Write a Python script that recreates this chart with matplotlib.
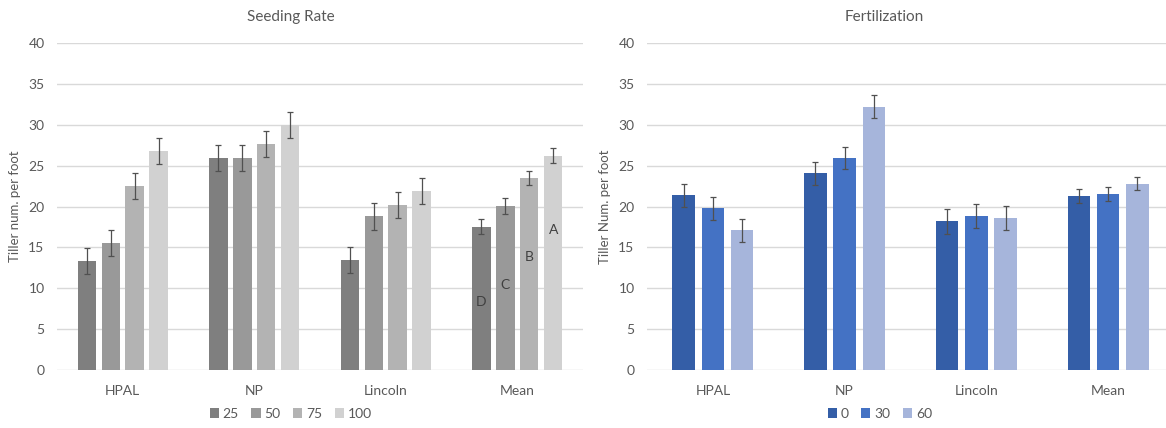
import matplotlib
matplotlib.use("Agg")
import matplotlib.pyplot as plt
import numpy as np
from matplotlib.patches import Patch

plt.rcParams['font.family'] = ['Lato', 'DejaVu Sans']

categories = ["HPAL", "NP", "Lincoln", "Mean"]

# Seeding rate panel
seed_labels = ["25", "50", "75", "100"]
seed_vals = [
    [13.3, 26.0, 13.5, 17.55],
    [15.5, 26.0, 18.8, 20.05],
    [22.5, 27.7, 20.2, 23.5],
    [26.8, 29.95, 21.9, 26.25],
]
seed_err = [
    [1.6, 1.6, 1.6, 0.9],
    [1.6, 1.6, 1.6, 0.95],
    [1.6, 1.6, 1.6, 0.9],
    [1.6, 1.6, 1.6, 0.95],
]
seed_letters = ["D", "C", "B", "A"]
seed_letter_y = [8.35, 10.4, 13.85, 17.1]
seed_colors = ["#7f7f7f", "#999999", "#b3b3b3", "#d1d1d1"]

# Fertilization panel
fert_labels = ["0", "30", "60"]
fert_vals = [
    [21.4, 24.1, 18.2, 21.3],
    [19.8, 25.95, 18.85, 21.55],
    [17.1, 32.25, 18.6, 22.8],
]
fert_err = [
    [1.4, 1.4, 1.5, 0.85],
    [1.4, 1.4, 1.5, 0.85],
    [1.4, 1.4, 1.5, 0.8],
]
fert_colors = ["#345ea7", "#4472c4", "#a6b5db"]

W, H = 1166, 428
fig = plt.figure(figsize=(W / 100, H / 100), dpi=100)
fig.patch.set_facecolor("white")

txt = "#595959"
grid = "#d9d9d9"
FS = 10


def style(ax, ylabel):
    ax.set_ylim(0, 40)
    ax.set_yticks(range(0, 41, 5))
    ax.set_xlim(-0.5, 3.5)
    ax.set_xticks(range(len(categories)))
    ax.set_xticklabels(categories)
    for s in ax.spines.values():
        s.set_visible(False)
    ax.tick_params(axis="both", length=0, colors=txt, labelsize=FS)
    ax.tick_params(axis="x", pad=11)
    ax.tick_params(axis="y", pad=9)
    ax.yaxis.grid(True, color=grid, linewidth=1)
    ax.set_axisbelow(True)
    ax.set_ylabel(ylabel, color=txt, fontsize=9.5, labelpad=5)


# Left panel
ax1 = fig.add_axes([57 / W, 58 / H, 526 / W, 326.7 / H])
x = np.arange(len(categories))
step, bw = 0.182, 0.141
for i, (lab, vals, errs, col) in enumerate(zip(seed_labels, seed_vals, seed_err, seed_colors)):
    xs = x + (i - 1.5) * step
    ax1.bar(xs, vals, width=bw, color=col, label=lab, zorder=2)
    ax1.errorbar(xs, vals, yerr=errs, fmt="none", ecolor="#505050", elinewidth=0.9,
                 capsize=2.2, capthick=0.9, zorder=3)
    ax1.text(xs[3], seed_letter_y[i], seed_letters[i], ha="center", va="center",
             color="#404040", fontsize=FS, zorder=4)
style(ax1, "Tiller num. per foot")
fig.text(291 / W, 1 - 17 / H, "Seeding Rate", ha="center", va="center", color=txt, fontsize=11)
h1 = [Patch(facecolor=c, edgecolor="none") for c in seed_colors]
fig.legend(h1, seed_labels, loc="center", bbox_to_anchor=(291 / W, 1 - 414 / H), ncol=4,
           frameon=False, fontsize=FS, handlelength=0.65, handleheight=0.65,
           handletextpad=0.3, columnspacing=0.9, labelcolor=txt)

# Right panel
ax2 = fig.add_axes([647 / W, 58 / H, 527 / W, 326.7 / H])
step2, bw2 = 0.222, 0.172
for i, (lab, vals, errs, col) in enumerate(zip(fert_labels, fert_vals, fert_err, fert_colors)):
    xs = x + (i - 1) * step2
    ax2.bar(xs, vals, width=bw2, color=col, label=lab, zorder=2)
    ax2.errorbar(xs, vals, yerr=errs, fmt="none", ecolor="#505050", elinewidth=0.9,
                 capsize=2.2, capthick=0.9, zorder=3)
style(ax2, "Tiller Num. per foot")
fig.text(884 / W, 1 - 17 / H, "Fertilization", ha="center", va="center", color=txt, fontsize=11)
h2 = [Patch(facecolor=c, edgecolor="none") for c in fert_colors]
fig.legend(h2, fert_labels, loc="center", bbox_to_anchor=(880 / W, 1 - 414 / H), ncol=3,
           frameon=False, fontsize=FS, handlelength=0.65, handleheight=0.65,
           handletextpad=0.3, columnspacing=0.9, labelcolor=txt)

fig.savefig("out.png", dpi=100, facecolor="white")
